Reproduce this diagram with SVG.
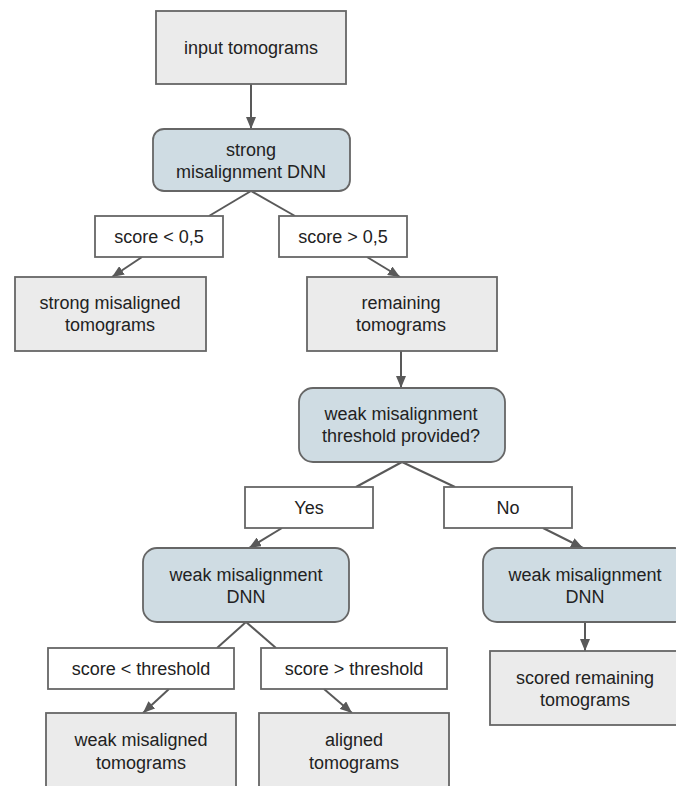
<svg xmlns="http://www.w3.org/2000/svg" width="676" height="786" viewBox="0 0 676 786">
<defs>
<marker id="ah" viewBox="0 0 12 10" refX="12" refY="5" markerWidth="12" markerHeight="10" markerUnits="userSpaceOnUse" orient="auto">
<path d="M0,0 L12,5 L0,10 Z" fill="#595959"/>
</marker>
<style>
.box{fill:#ebebeb;stroke:#666;stroke-width:1.8}
.dnn{fill:#cfdce3;stroke:#666;stroke-width:1.8}
.lbl{fill:#fff;stroke:#666;stroke-width:1.8}
.c{stroke:#595959;stroke-width:2;fill:none}
.a{stroke:#595959;stroke-width:2;fill:none;marker-end:url(#ah)}
text{font-family:"Liberation Sans",Arial,sans-serif;font-size:18px;fill:#222;text-anchor:middle}
</style>
</defs>
<rect width="676" height="786" fill="#fff"/>
<g id="connectors">
<line class="a" x1="251" y1="84" x2="251" y2="129"/>
<line class="c" x1="251" y1="191" x2="209" y2="216"/>
<line class="c" x1="251" y1="191" x2="295" y2="216"/>
<line class="a" x1="142" y1="257" x2="112" y2="277"/>
<line class="a" x1="367" y1="257" x2="400" y2="277"/>
<line class="a" x1="401" y1="351" x2="401" y2="388"/>
<line class="c" x1="402" y1="462" x2="356" y2="487"/>
<line class="c" x1="402" y1="462" x2="455" y2="487"/>
<line class="a" x1="282" y1="528" x2="249" y2="548"/>
<line class="a" x1="543" y1="528" x2="583" y2="548"/>
<line class="c" x1="246" y1="622" x2="217" y2="648"/>
<line class="c" x1="246" y1="622" x2="276" y2="648"/>
<line class="a" x1="169" y1="689" x2="143" y2="713"/>
<line class="a" x1="324" y1="689" x2="352" y2="713"/>
<line class="a" x1="585" y1="622" x2="585" y2="651"/>
</g>
<g id="input">
<rect class="box" x="156" y="11" width="190" height="73"/>
<text x="251" y="54">input tomograms</text>
</g>
<g id="strongDNN">
<rect class="dnn" x="153" y="129" width="197" height="62" rx="11"/>
<text x="251" y="156">strong</text>
<text x="251" y="178">misalignment DNN</text>
</g>
<g id="lblLow1">
<rect class="lbl" x="95" y="216" width="128" height="41"/>
<text x="159" y="243">score &lt; 0,5</text>
</g>
<g id="lblHigh1">
<rect class="lbl" x="279" y="216" width="128" height="41"/>
<text x="343" y="243">score &gt; 0,5</text>
</g>
<g id="strongMis">
<rect class="box" x="15" y="277" width="191" height="74"/>
<text x="110" y="309">strong misaligned</text>
<text x="110" y="331">tomograms</text>
</g>
<g id="remaining">
<rect class="box" x="307" y="277" width="190" height="74"/>
<text x="401" y="309">remaining</text>
<text x="401" y="331">tomograms</text>
</g>
<g id="threshold">
<rect class="dnn" x="299" y="388" width="206" height="74" rx="14"/>
<text x="401" y="420">weak misalignment</text>
<text x="401" y="442">threshold provided?</text>
</g>
<g id="lblYes">
<rect class="lbl" x="245" y="487" width="128" height="41"/>
<text x="309" y="514">Yes</text>
</g>
<g id="lblNo">
<rect class="lbl" x="444" y="487" width="128" height="41"/>
<text x="508" y="514">No</text>
</g>
<g id="weakDNN1">
<rect class="dnn" x="143" y="548" width="206" height="74" rx="14"/>
<text x="246" y="581">weak misalignment</text>
<text x="246" y="603">DNN</text>
</g>
<g id="weakDNN2">
<rect class="dnn" x="483" y="548" width="206" height="74" rx="14"/>
<text x="585" y="581">weak misalignment</text>
<text x="585" y="603">DNN</text>
</g>
<g id="lblLow2">
<rect class="lbl" x="48" y="648" width="186" height="41"/>
<text x="141" y="675">score &lt; threshold</text>
</g>
<g id="lblHigh2">
<rect class="lbl" x="261" y="648" width="186" height="41"/>
<text x="354" y="675">score &gt; threshold</text>
</g>
<g id="scoredRemaining">
<rect class="box" x="490" y="651" width="192" height="74"/>
<text x="585" y="684">scored remaining</text>
<text x="585" y="706">tomograms</text>
</g>
<g id="weakMis">
<rect class="box" x="46" y="713" width="190" height="80"/>
<text x="141" y="746">weak misaligned</text>
<text x="141" y="769">tomograms</text>
</g>
<g id="aligned">
<rect class="box" x="259" y="713" width="190" height="80"/>
<text x="354" y="746">aligned</text>
<text x="354" y="769">tomograms</text>
</g>
</svg>
